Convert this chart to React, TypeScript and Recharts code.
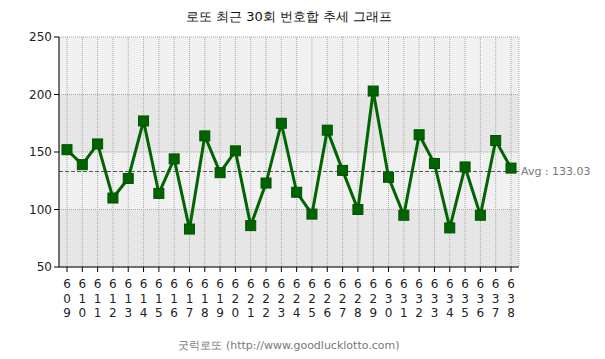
import { CartesianGrid, ComposedChart, Line, ReferenceLine, XAxis, YAxis } from "recharts";

const rounds = [
  "609", "610", "611", "612", "613", "614", "615", "616", "617", "618",
  "619", "620", "621", "622", "623", "624", "625", "626", "627", "628",
  "629", "630", "631", "632", "633", "634", "635", "636", "637", "638",
];
const sums = [
  152, 139, 157, 110, 127, 177, 114, 144, 83, 164,
  132, 151, 86, 123, 175, 115, 96, 169, 134, 100,
  203, 128, 95, 165, 140, 84, 137, 95, 160, 136,
];
const yTicks = [50, 100, 150, 200, 250];
const stripeFills = ["#f0f0f0", "#e6e6e6"];

const avg = Math.round((sums.reduce((a, b) => a + b, 0) / sums.length) * 100) / 100;
const data = rounds.map((round, i) => ({ round, sum: sums[i] }));
const FONT = "Tahoma, 'DejaVu Sans', sans-serif";

function RoundTick({ x, y, payload }: any) {
  const chars = String(payload.value).split("");
  return (
    <text x={x} y={y} textAnchor="middle" fontSize={12} fontFamily={FONT} fill="#222">
      {chars.map((c, i) => (
        <tspan key={i} x={x} dy={i === 0 ? 14 : 14.5}>
          {c}
        </tspan>
      ))}
    </text>
  );
}

function SquareDot({ cx, cy }: any) {
  if (cx == null || cy == null) return null;
  return <rect x={cx - 5} y={cy - 5} width={10} height={10} fill="#006400" stroke="#005000" strokeWidth={1} />;
}

export default function App() {
  return (
    <div style={{ position: "absolute", left: 0, top: 0, width: 605, height: 359, background: "#fff", fontFamily: FONT }}>
      <div style={{ position: "absolute", top: 8, left: 0, width: 578, textAlign: "center", fontSize: 13, color: "#111" }}>
        로또 최근 30회 번호합 추세 그래프
      </div>
      <ComposedChart width={605} height={359} data={data} margin={{ top: 37, right: 86, bottom: 40, left: 19 }}>
        <CartesianGrid
          stroke="#a8a8a8"
          strokeDasharray="1 1"
          horizontalFill={stripeFills}
          fillOpacity={1}
        />
        <ReferenceLine
          y={avg}
          stroke="#555"
          strokeDasharray="4 2"
          label={{ value: `Avg : ${avg.toFixed(2)}`, position: "right", fill: "#777", fontSize: 11, fontFamily: FONT, offset: 2 }}
        />
        <XAxis
          dataKey="round"
          tick={<RoundTick />}
          tickLine={{ stroke: "#000" }}
          tickSize={5}
          axisLine={{ stroke: "#000" }}
          interval={0}
          padding={{ left: 8, right: 8 }}
          height={52}
        />
        <YAxis
          domain={[50, 250]}
          ticks={yTicks}
          tick={{ fill: "#222", fontSize: 12, fontFamily: FONT }}
          tickLine={{ stroke: "#000" }}
          tickSize={5}
          axisLine={{ stroke: "#000" }}
          width={40}
        />
        <YAxis
          yAxisId="edge"
          orientation="right"
          domain={[50, 250]}
          tick={false}
          tickLine={false}
          axisLine={{ stroke: "#a8a8a8", strokeDasharray: "1 1" }}
          width={0}
        />
        <Line
          dataKey="sum"
          stroke="#006400"
          strokeWidth={3}
          dot={<SquareDot />}
          activeDot={false}
          isAnimationActive={false}
        />
      </ComposedChart>
      <div style={{ position: "absolute", top: 338, left: 0, width: 578, textAlign: "center", fontSize: 11, color: "#777" }}>
        굿럭로또 (http://www.goodlucklotto.com)
      </div>
    </div>
  );
}
